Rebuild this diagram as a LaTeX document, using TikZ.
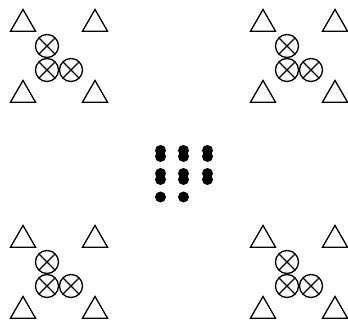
\documentclass[tikz,border=0pt]{standalone}
\usetikzlibrary{shapes.geometric}

\begin{document}
\begin{tikzpicture}[
  x=1pt, y=-1pt,
  tri/.style={regular polygon, regular polygon sides=3, draw, line width=1.3pt, inner sep=0pt, minimum size=29pt},
  otimes/.style={circle, draw, line width=1.3pt, inner sep=0pt, minimum size=23pt,
    path picture={\draw[line width=1.3pt] (path picture bounding box.north west) -- (path picture bounding box.south east)
      (path picture bounding box.north east) -- (path picture bounding box.south west);}},
  dot/.style={circle, fill, inner sep=0pt, minimum size=11pt}
]
\useasboundingbox (0,0) rectangle (348,323);
% four corner groups
\foreach \dx/\dy/\c in {0/0/a, 240/0/b, 0/216/c, 240/216/d} {
  \begin{scope}[shift={(\dx,\dy)}]
    \node[tri] (\c-t1) at (23,24) {};
    \node[tri] (\c-t2) at (95,24) {};
    \node[tri] (\c-t3) at (23,95) {};
    \node[tri] (\c-t4) at (95,95) {};
    \node[otimes] (\c-o1) at (47,46) {};
    \node[otimes] (\c-o2) at (47,70) {};
    \node[otimes] (\c-o3) at (71,70) {};
  \end{scope}
}
% dots in the middle
\foreach \x/\n in {160.5/1, 183.5/2, 207.5/3} {
  \node[dot] (p\n1) at (\x,150.5) {};
  \node[dot] (p\n2) at (\x,156.5) {};
  \node[dot] (p\n3) at (\x,173.5) {};
  \node[dot] (p\n4) at (\x,179.5) {};
}
\node[dot] (p15) at (160.5,197) {};
\node[dot] (p25) at (183.5,197) {};
\end{tikzpicture}
\end{document}
